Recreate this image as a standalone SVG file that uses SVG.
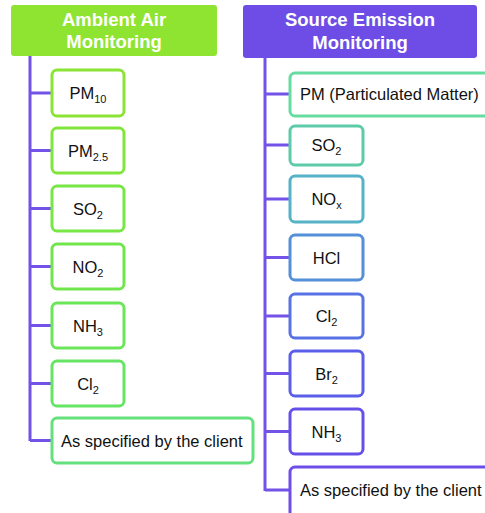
<svg xmlns="http://www.w3.org/2000/svg" width="485" height="513" viewBox="0 0 485 513">
<style>
text{font-family:"Liberation Sans",Arial,sans-serif}
.hd{font-size:18.5px;font-weight:bold;fill:#ffffff;text-anchor:middle}
.lb{font-size:16.5px;fill:#111111;text-anchor:middle}
.ls{font-size:16.5px;fill:#111111}
.sub{font-size:11px}
.nd{fill:#ffffff;stroke-width:3}
.cn{stroke:#7352e8;stroke-width:3;fill:none}
</style>
<rect width="485" height="513" fill="#ffffff"/>
<g id="connectors">
<path class="cn" d="M30 56V441M30 93H51M30 150.5H51M30 208.5H51M30 266.5H51M30 325.5H51M30 383.5H51M30 440.5H51"/>
<path class="cn" d="M265 58V491M265 94H289M265 145H289M265 199H289M265 257.5H289M265 316H289M265 373.5H289M265 431.5H289M265 490H289"/>
</g>
<g id="h-ambient">
<rect x="11" y="5" width="206" height="51" rx="3" fill="#8ee430"/>
<text class="hd" x="114" y="26">Ambient Air</text>
<text class="hd" x="114" y="48">Monitoring</text>
</g>
<g id="h-source">
<rect x="243" y="5" width="234" height="53" rx="3" fill="#6d4de6"/>
<text class="hd" x="360" y="26">Source Emission</text>
<text class="hd" x="360" y="49">Monitoring</text>
</g>
<g id="a-pm10"><rect class="nd" x="52" y="70" width="72" height="46" rx="5" stroke="#8ae434"/><text class="lb" x="88" y="99">PM<tspan class="sub" dy="4">10</tspan></text></g>
<g id="a-pm25"><rect class="nd" x="52" y="128" width="72" height="45" rx="5" stroke="#80e63c"/><text class="lb" x="88" y="156.5">PM<tspan class="sub" dy="4">2.5</tspan></text></g>
<g id="a-so2"><rect class="nd" x="52" y="186" width="72" height="45" rx="5" stroke="#78e644"/><text class="lb" x="88" y="214.5">SO<tspan class="sub" dy="4">2</tspan></text></g>
<g id="a-no2"><rect class="nd" x="52" y="244" width="72" height="45" rx="5" stroke="#70e64c"/><text class="lb" x="88" y="272.5">NO<tspan class="sub" dy="4">2</tspan></text></g>
<g id="a-nh3"><rect class="nd" x="52" y="303" width="72" height="45" rx="5" stroke="#6ae658"/><text class="lb" x="88" y="331.5">NH<tspan class="sub" dy="4">3</tspan></text></g>
<g id="a-cl2"><rect class="nd" x="52" y="361" width="72" height="45" rx="5" stroke="#66e464"/><text class="lb" x="88" y="389.5">Cl<tspan class="sub" dy="4">2</tspan></text></g>
<g id="a-client"><rect class="nd" x="52" y="418" width="201" height="45" rx="5" stroke="#64e07c"/><text class="ls" x="61" y="446.5">As specified by the client</text></g>
<g id="s-pm"><rect class="nd" x="290" y="73" width="210" height="43" rx="5" stroke="#66dca0"/><text class="ls" x="300" y="100">PM (Particulated Matter)</text></g>
<g id="s-so2"><rect class="nd" x="290" y="126" width="73" height="39" rx="5" stroke="#5ecaa8"/><text class="lb" x="326.5" y="151">SO<tspan class="sub" dy="4">2</tspan></text></g>
<g id="s-nox"><rect class="nd" x="290" y="176" width="73" height="46" rx="5" stroke="#56b2c6"/><text class="lb" x="326.5" y="205">NO<tspan class="sub" dy="4">x</tspan></text></g>
<g id="s-hcl"><rect class="nd" x="290" y="235" width="73" height="45" rx="5" stroke="#5490d8"/><text class="lb" x="326.5" y="263.5">HCl</text></g>
<g id="s-cl2"><rect class="nd" x="290" y="294" width="73" height="44" rx="5" stroke="#5872e4"/><text class="lb" x="326.5" y="322">Cl<tspan class="sub" dy="4">2</tspan></text></g>
<g id="s-br2"><rect class="nd" x="290" y="351" width="73" height="45" rx="5" stroke="#5a5ee8"/><text class="lb" x="326.5" y="379.5">Br<tspan class="sub" dy="4">2</tspan></text></g>
<g id="s-nh3"><rect class="nd" x="290" y="409" width="73" height="45" rx="5" stroke="#6450e8"/><text class="lb" x="326.5" y="437.5">NH<tspan class="sub" dy="4">3</tspan></text></g>
<g id="s-client"><rect class="nd" x="290" y="467" width="210" height="50" rx="5" stroke="#6e4ee8"/><text class="ls" x="300" y="496">As specified by the client</text></g>
</svg>
